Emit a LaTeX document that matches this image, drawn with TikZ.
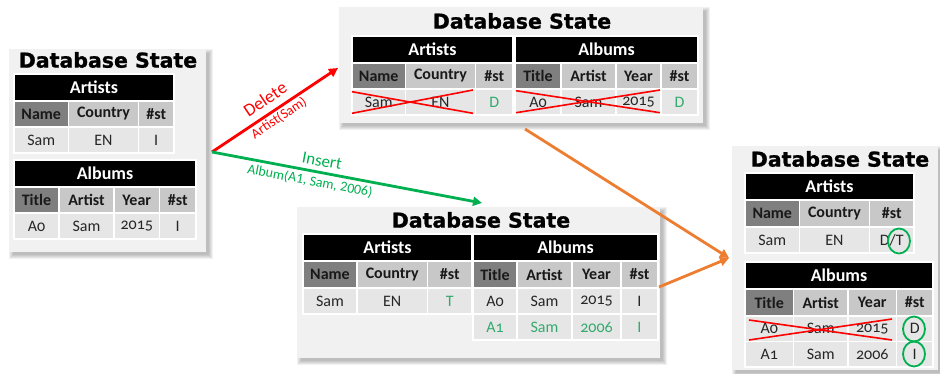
\documentclass[tikz,border=0pt]{standalone}
\usepackage{fontspec}
\setmainfont{Carlito}
\newfontfamily\tabfont[Numbers=OldStyle]{Carlito}
\newfontfamily\titlefont[BoldFeatures={FakeBold=1}]{DejaVu Sans}
\usetikzlibrary{arrows.meta,shapes.geometric}
\definecolor{panelbg}{HTML}{F1F1F1}
\definecolor{hdrdark}{HTML}{7F7F7F}
\definecolor{hdrlight}{HTML}{C8C8C8}
\definecolor{datacell}{HTML}{E6E6E6}
\definecolor{txtgreen}{RGB}{50,170,110}
\definecolor{arrred}{HTML}{FF0000}
\definecolor{arrgreen}{HTML}{00B050}
\definecolor{arrorange}{HTML}{ED7D31}
\tikzset{
  cellbase/.style={draw=white, line width=1.2pt, inner sep=0pt, outer sep=0pt},
  bar/.style={cellbase, fill=black, text=white, font=\tabfont\bfseries\fontsize{18}{18}\selectfont},
  hdone/.style={cellbase, fill=hdrdark, text=black!90, font=\tabfont\bfseries\fontsize{16}{16}\selectfont},
  hdtwo/.style={cellbase, fill=hdrlight, text=black!90, font=\tabfont\bfseries\fontsize{16}{16}\selectfont},
  dat/.style={cellbase, fill=datacell, text=black!85, font=\tabfont\fontsize{16}{16}\selectfont},
  gdat/.style={dat, text=txtgreen},
  panelbox/.style={fill=panelbg, draw=none, inner sep=0pt},
  titletext/.style={inner sep=0pt, font=\titlefont\bfseries\fontsize{20.5}{20.5}\selectfont},
  xline/.style={draw=arrred, line width=1.6pt},
  gcirc/.style={ellipse, draw=arrgreen, line width=1.8pt, minimum width=22pt, minimum height=25pt, inner sep=0pt},
  arrowline/.style={line width=2.8pt, -{Triangle[length=9pt,width=9pt]}},
  lbl/.style={inner sep=0pt},
}
\newcommand\tcell[7]{%
  \node[#6, minimum width={(#4-#2)*1pt}, minimum height={(#5-#3)*1pt}] (#1) at ({(#2+#4)/2},{(#3+#5)/2}) {#7};}
\newcommand\panelbg[5]{%
  \foreach \d in {0,1,2,3,4}{\fill[black,opacity=0.055] ({#2+3-\d},{#3+3-\d}) rectangle ({#4+3+\d},{#5+3+\d});}
  \node[panelbox, minimum width={(#4-#2)*1pt}, minimum height={(#5-#3)*1pt}] (#1) at ({(#2+#4)/2},{(#3+#5)/2}) {};}
\begin{document}
\begin{tikzpicture}[x=1pt,y=-1pt]
\useasboundingbox[fill=white] (0,0) rectangle (940,374);

% ---------- State 0 (left) ----------
\panelbg{p0}{10}{50}{206}{252}
\node[titletext] (t0) at (108,60) {Database State};
\tcell{a0bar}{14}{74}{174}{101}{bar}{Artists}
\tcell{a0h1}{14}{101}{68.5}{127}{hdone}{Name}
\tcell{a0h2}{68.5}{101}{138.5}{127}{hdtwo}{Country}
\tcell{a0h3}{138.5}{101}{174}{127}{hdtwo}{\#st}
\tcell{a0d1}{14}{127}{68.5}{153}{dat}{Sam}
\tcell{a0d2}{68.5}{127}{138.5}{153}{dat}{EN}
\tcell{a0d3}{138.5}{127}{174}{153}{dat}{I}
\tcell{b0bar}{14}{160}{196}{187}{bar}{Albums}
\tcell{b0h1}{14}{187}{59}{213}{hdone}{Title}
\tcell{b0h2}{59}{187}{114}{213}{hdtwo}{Artist}
\tcell{b0h3}{114}{187}{159.5}{213}{hdtwo}{Year}
\tcell{b0h4}{159.5}{187}{196}{213}{hdtwo}{\#st}
\tcell{b0d1}{14}{213}{59}{239}{dat}{A0}
\tcell{b0d2}{59}{213}{114}{239}{dat}{Sam}
\tcell{b0d3}{114}{213}{159.5}{239}{dat}{2015}
\tcell{b0d4}{159.5}{213}{196}{239}{dat}{I}

% ---------- State 1 (top) ----------
\panelbg{p1}{340}{8}{703}{123}
\node[titletext] (t1) at (522,21) {Database State};
\tcell{a1bar}{352}{36}{513}{63}{bar}{Artists}
\tcell{a1h1}{352}{63}{405.5}{89}{hdone}{Name}
\tcell{a1h2}{405.5}{63}{475.5}{89}{hdtwo}{Country}
\tcell{a1h3}{475.5}{63}{513}{89}{hdtwo}{\#st}
\tcell{a1d1}{352}{89}{405.5}{115}{dat}{Sam}
\tcell{a1d2}{405.5}{89}{475.5}{115}{dat}{EN}
\tcell{a1d3}{475.5}{89}{513}{115}{gdat}{D}
\tcell{b1bar}{515}{36}{698}{63}{bar}{Albums}
\tcell{b1h1}{515}{63}{561}{89}{hdone}{Title}
\tcell{b1h2}{561}{63}{616}{89}{hdtwo}{Artist}
\tcell{b1h3}{616}{63}{661}{89}{hdtwo}{Year}
\tcell{b1h4}{661}{63}{698}{89}{hdtwo}{\#st}
\tcell{b1d1}{515}{89}{561}{115}{dat}{A0}
\tcell{b1d2}{561}{89}{616}{115}{dat}{Sam}
\tcell{b1d3}{616}{89}{661}{115}{dat}{2015}
\tcell{b1d4}{661}{89}{698}{115}{gdat}{D}
\draw[xline] (352,91.7) -- (473,113.3);
\draw[xline] (352,113.3) -- (473,90);
\draw[xline] (516,90.7) -- (660,112.7);
\draw[xline] (516,112.7) -- (660,90);

% ---------- State 2 (middle) ----------
\panelbg{p2}{298}{208}{660}{358}
\node[titletext] (t2) at (481,220) {Database State};
\tcell{a2bar}{303}{234}{472}{261}{bar}{Artists}
\tcell{a2h1}{303}{261}{357}{288}{hdone}{Name}
\tcell{a2h2}{357}{261}{427.5}{288}{hdtwo}{Country}
\tcell{a2h3}{427.5}{261}{472}{288}{hdtwo}{\#st}
\tcell{a2d1}{303}{288}{357}{314}{dat}{Sam}
\tcell{a2d2}{357}{288}{427.5}{314}{dat}{EN}
\tcell{a2d3}{427.5}{288}{472}{314}{gdat}{T}
\tcell{b2bar}{473}{234}{658}{261}{bar}{Albums}
\tcell{b2h1}{473}{261}{517}{288}{hdone}{Title}
\tcell{b2h2}{517}{261}{572}{288}{hdtwo}{Artist}
\tcell{b2h3}{572}{261}{621}{288}{hdtwo}{Year}
\tcell{b2h4}{621}{261}{658}{288}{hdtwo}{\#st}
\tcell{b2d1}{473}{288}{517}{314}{dat}{A0}
\tcell{b2d2}{517}{288}{572}{314}{dat}{Sam}
\tcell{b2d3}{572}{288}{621}{314}{dat}{2015}
\tcell{b2d4}{621}{288}{658}{314}{dat}{I}
\tcell{b2e1}{473}{314}{517}{340}{gdat}{A1}
\tcell{b2e2}{517}{314}{572}{340}{gdat}{Sam}
\tcell{b2e3}{572}{314}{621}{340}{gdat}{2006}
\tcell{b2e4}{621}{314}{658}{340}{gdat}{I}

% ---------- State 3 (right) ----------
\panelbg{p3}{733}{147}{938}{370}
\node[titletext] (t3) at (840,159) {Database State};
\tcell{a3bar}{745}{173}{914}{200}{bar}{Artists}
\tcell{a3h1}{745}{200}{799.5}{227}{hdone}{Name}
\tcell{a3h2}{799.5}{200}{869.5}{227}{hdtwo}{Country}
\tcell{a3h3}{869.5}{200}{914}{227}{hdtwo}{\#st}
\tcell{a3d1}{745}{227}{799.5}{253}{dat}{Sam}
\tcell{a3d2}{799.5}{227}{869.5}{253}{dat}{EN}
\tcell{a3d3}{869.5}{227}{914}{253}{dat}{D/T}
\tcell{b3bar}{745}{262}{933}{289}{bar}{Albums}
\tcell{b3h1}{745}{289}{793.5}{316}{hdone}{Title}
\tcell{b3h2}{793.5}{289}{848}{316}{hdtwo}{Artist}
\tcell{b3h3}{848}{289}{896.5}{316}{hdtwo}{Year}
\tcell{b3h4}{896.5}{289}{933}{316}{hdtwo}{\#st}
\tcell{b3d1}{745}{316}{793.5}{341.5}{dat}{A0}
\tcell{b3d2}{793.5}{316}{848}{341.5}{dat}{Sam}
\tcell{b3d3}{848}{316}{896.5}{341.5}{dat}{2015}
\tcell{b3d4}{896.5}{316}{933}{341.5}{dat}{D}
\tcell{b3e1}{745}{341.5}{793.5}{367}{dat}{A1}
\tcell{b3e2}{793.5}{341.5}{848}{367}{dat}{Sam}
\tcell{b3e3}{848}{341.5}{896.5}{367}{dat}{2006}
\tcell{b3e4}{896.5}{341.5}{933}{367}{dat}{I}
\draw[xline] (749,320) -- (892,340);
\draw[xline] (749,340) -- (892,319);
\node[gcirc] (c1) at (899,241) {};
\node[gcirc] (c2) at (914,329) {};
\node[gcirc] (c3) at (914,354) {};

% ---------- Arrows ----------
\coordinate (srcL) at (212,152);
\coordinate (delEnd) at (338,68);
\coordinate (insEnd) at (482,203);
\coordinate (topOut) at (525,129);
\coordinate (midOut) at (659,287);
\coordinate (mergeIn) at (729,258);
\draw[arrowline, draw=arrred, fill=arrred] (srcL) -- (delEnd);
\draw[arrowline, draw=arrgreen, fill=arrgreen] (srcL) -- (insEnd);
\draw[arrowline, draw=arrorange, fill=arrorange] (topOut) -- (mergeIn);
\draw[arrowline, draw=arrorange, fill=arrorange] (midOut) -- (mergeIn);

\node[lbl, text=arrred, rotate=33.7, font=\fontsize{18}{18}\selectfont] (dlab) at (265,99) {Delete};
\node[lbl, text=arrred, rotate=33.7, font=\fontsize{14}{14}\selectfont] (dsub) at (279,118) {Artist(Sam)};
\node[lbl, text=arrgreen, rotate=-10.7, font=\fontsize{17}{17}\selectfont] (ilab) at (322,161) {Insert};
\node[lbl, text=arrgreen, rotate=-10.7, font=\fontsize{14}{14}\selectfont] (isub) at (310,181) {Album(A1, Sam, 2006)};
\end{tikzpicture}
\end{document}
